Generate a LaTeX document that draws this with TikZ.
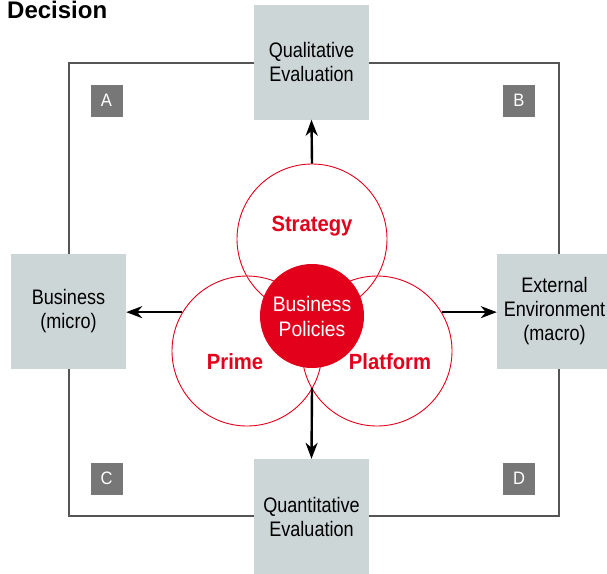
\documentclass[tikz,border=0pt]{standalone}
\usepackage{fontspec}
\setmainfont{Liberation Sans}[FakeStretch=0.92]
\newfontfamily\boxfont{Liberation Sans}[FakeStretch=0.86]
\newfontfamily\titlefont{Liberation Sans}
\usetikzlibrary{arrows.meta}
\definecolor{boxfill}{HTML}{CDD6D6}
\definecolor{tagfill}{HTML}{777777}
\definecolor{myred}{HTML}{E2001A}
\definecolor{frame}{HTML}{555555}
\tikzset{
  box/.style={fill=boxfill, minimum width=115pt, minimum height=115pt, inner sep=0pt, align=center, font=\boxfont\fontsize{21}{24}\selectfont},
  tag/.style={fill=tagfill, text=white, minimum size=32pt, inner sep=0pt, font=\fontsize{18}{20}\selectfont},
  ring/.style={circle, draw=myred, line width=0.9pt, minimum size=150pt, inner sep=0pt},
  ringlabel/.style={text=myred, font=\bfseries\fontsize{22}{24}\selectfont},
  arr/.style={line width=2.4pt, -{Stealth[length=16pt,width=12pt,inset=5pt]}},
}
\begin{document}
\begin{tikzpicture}[x=1pt,y=-1pt]
\useasboundingbox (0,0) rectangle (607,573);
\node[anchor=north west, inner sep=0pt, font=\titlefont\bfseries\fontsize{24}{26}\selectfont] (title) at (7,1) {Decision};
\draw[frame, line width=1.3pt] (69,63) rectangle (559,516);
\node[box] (qual) at (311.5,62) {Qualitative\\Evaluation};
\node[box] (quant) at (311.5,516.5) {Quantitative\\Evaluation};
\node[box] (bus) at (68.5,311) {Business\\(micro)};
\node[box] (ext) at (554.5,311) {External\\Environment\\(macro)};
\node[tag] (A) at (106.5,100.5) {A};
\node[tag] (B) at (519,100.5) {B};
\node[tag] (C) at (106.5,478.5) {C};
\node[tag] (D) at (519,478.5) {D};
\node[ring] (strat) at (312,239) {};
\node[ring] (prime) at (247,351) {};
\node[ring] (plat) at (377,351) {};
\node[circle, fill=myred, minimum size=104pt, inner sep=0pt, text=white, align=center, font=\fontsize{21}{25}\selectfont] (core) at (312,316) {Business\\Policies};
\node[ringlabel] (stratl) at (312,226) {Strategy};
\node[ringlabel] (primel) at (235,362) {Prime};
\node[ringlabel] (platl) at (390,362) {Platform};
\coordinate (meet) at (312,388);
\draw[arr] (strat.north) -- (qual.south);
\draw[arr] (prime.149) -- (prime.149 -| bus.east);
\draw[arr] (plat.31) -- (plat.31 -| ext.west);
\draw[arr] (meet) -- (quant.north);
\end{tikzpicture}
\end{document}
